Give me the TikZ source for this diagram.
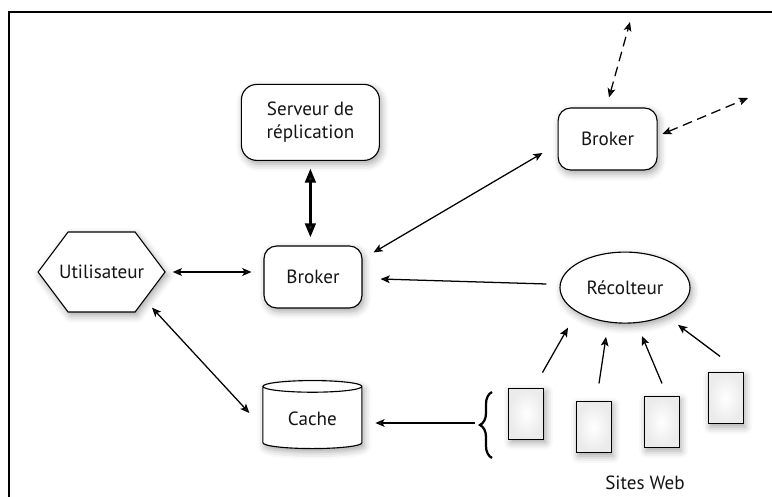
\documentclass[tikz,border=0pt]{standalone}
\usepackage{fontspec}
\setmainfont{PT Sans}
\usepackage{tikz}
\usetikzlibrary{arrows.meta,positioning}
\usetikzlibrary{shapes.geometric,shadows,shadows.blur}
\usetikzlibrary{decorations.pathreplacing}
\tikzstyle{fleche}=[line width=0.9pt,>={Stealth[length=6.5pt,width=5.5pt,inset=1.5pt]}]
\tikzstyle{ombre}=[blur shadow={shadow xshift=1.5pt,shadow yshift=-2.5pt,shadow blur radius=5pt,shadow opacity=35}]
\tikzstyle{texte}=[font=\fontsize{13.6}{16.5}\selectfont, text=black!92]
\tikzstyle{boite}=[rectangle, rounded corners=9pt, draw, fill=white, line width=0.8pt, ombre, texte]
\tikzstyle{hexa}=[draw, fill=white, line width=0.8pt, ombre]
\tikzstyle{base}=[cylinder, shape border rotate=90, aspect=0.2, draw, fill=white,
minimum width=2.475cm, minimum height=1.7cm, line width=0.8pt, ombre, texte]
\tikzstyle{recolte}=[ellipse, draw, fill=white, minimum width=3.25cm, minimum height=1.775cm,
line width=0.8pt, ombre, texte]
\tikzstyle{site}=[rectangle, draw, inner color=white, outer color=black!8,
minimum width=0.875cm, minimum height=1.275cm, line width=0.8pt, ombre]

\begin{document}
\begin{tikzpicture}[fleche]
\useasboundingbox (0,0) rectangle (19.3,12.4);
\draw[line width=1.4pt] (0.225,-0.5) |- (19.8,12.1);
% noeuds
\node[boite, minimum width=3.45cm, minimum height=1.9cm, align=center, rounded corners=11pt] (serveur) at (7.76,9.34) {Serveur de\\réplication};
\node[boite, minimum width=2.45cm, minimum height=1.55cm] (broker) at (7.825,5.475) {Broker};
\node[boite, minimum width=2.475cm, minimum height=1.55cm] (broker2) at (15.19,8.925) {Broker};
\draw[hexa] (0.9525,5.6) -- ++(0.75,1) -- ++(1.675,0) -- ++(0.75,-1) -- ++(-0.75,-1) -- ++(-1.675,0) -- cycle;
\node[texte, minimum width=3.175cm, minimum height=2cm] (util) at (2.54,5.6) {Utilisateur};
\node[base] (cache) at (7.81,1.925) {Cache};
\node[recolte] (recolteur) at (15.625,5.21) {Récolteur};
\node[site] (s1) at (13.16,2.06) {};
\node[site] (s2) at (14.84,1.725) {};
\node[site] (s3) at (16.54,1.85) {};
\node[site] (s4) at (18.14,2.45) {};
\node[texte] (web) at (16.125,0.325) {Sites Web};
\draw[decorate, decoration={brace, amplitude=0.3cm}, line width=1.6pt] (12.3,0.95) -- (12.3,2.6);
\coordinate (accolade) at (11.875,1.825);
\coordinate (haut) at (15.75,11.85);
\coordinate (droite) at (18.7,9.95);
% liens
\draw[<->, line width=2pt, >={Triangle[length=10pt,width=7.5pt]}] ([yshift=-5.4pt]serveur.south) -- ([yshift=5.7pt]serveur.south |- broker.north);
\draw[<->] ([xshift=5pt]util.east) -- ([xshift=-8.5pt]util.east -| broker.west);
\draw[<->] ([xshift=1.26cm,yshift=0.125cm]util.south) -- ([xshift=-0.325cm,yshift=0.15cm]cache.west);
\draw[<->] ([xshift=0.275cm,yshift=-0.175cm]broker.north east) -- ([xshift=-0.375cm,yshift=-0.35cm]broker2.west);
\draw[->] ([xshift=-0.325cm,yshift=0.09cm]recolteur.west) -- ([xshift=0.45cm,yshift=-0.05cm]broker.east);
\draw[->] (accolade) -- ([xshift=9.2pt]accolade -| cache.east);
\draw[->] ([xshift=-0.05cm,yshift=0.375cm]s1.north east) -- ([xshift=-1.425cm,yshift=-0.1cm]recolteur.south);
\draw[->] ([xshift=0.135cm,yshift=0.4375cm]s2.north) -- ([xshift=-0.475cm,yshift=-0.33cm]recolteur.south);
\draw[->] ([xshift=0.01cm,yshift=0.3125cm]s3.north) -- ([xshift=0.425cm,yshift=-0.31cm]recolteur.south);
\draw[->] ([xshift=-0.14cm,yshift=0.39cm]s4.north) -- ([xshift=1.325cm,yshift=-0.03cm]recolteur.south);
\draw[<->, dash pattern=on 7pt off 4pt] ([xshift=0.035cm,yshift=0.25cm]broker2.north) -- (haut);
\draw[<->, dash pattern=on 7pt off 4pt] ([xshift=0.12cm,yshift=0.125cm]broker2.east) -- (droite);
\end{tikzpicture}
\end{document}
